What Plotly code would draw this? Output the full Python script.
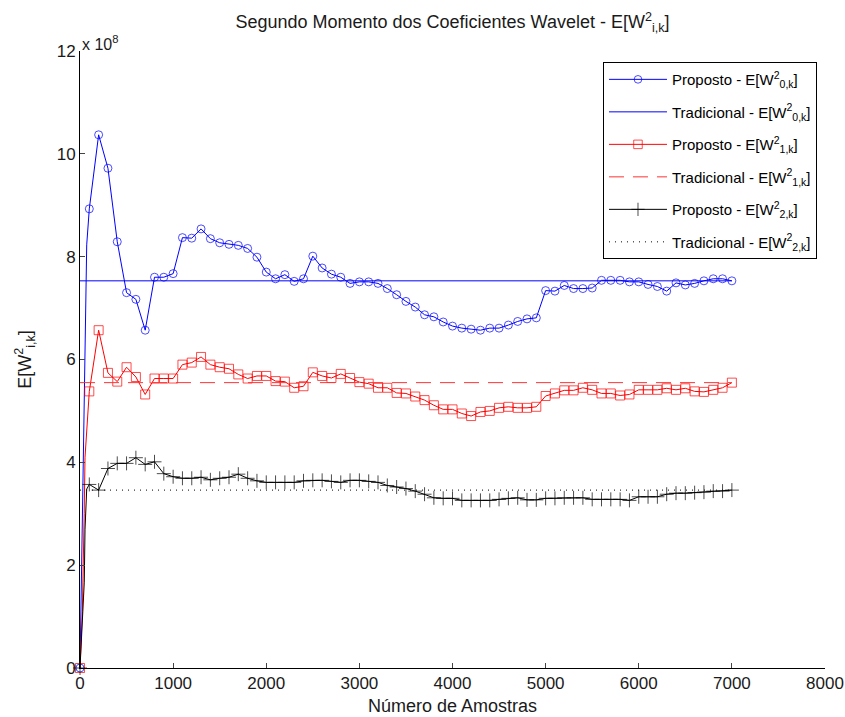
import numpy as np
import plotly.graph_objects as go

# Sample counts where the estimates were recorded (one marker every 100 samples)
amostras = list(range(0, 7001, 100))

# Proposed estimator, level 0 (x 1e8)
proposto_w0 = [0.0, 8.93, 10.37, 9.72, 8.29, 7.30, 7.17, 6.57, 7.60, 7.60, 7.67,
               8.37, 8.36, 8.54, 8.35, 8.27, 8.24, 8.22, 8.16, 7.99, 7.70,
               7.57, 7.65, 7.52, 7.57, 8.01, 7.78, 7.66, 7.60, 7.48, 7.51,
               7.51, 7.48, 7.38, 7.26, 7.13, 7.02, 6.87, 6.83, 6.73, 6.65,
               6.61, 6.59, 6.57, 6.61, 6.61, 6.67, 6.74, 6.79, 6.81, 7.34,
               7.33, 7.44, 7.38, 7.38, 7.39, 7.54, 7.54, 7.54, 7.51, 7.51,
               7.46, 7.42, 7.33, 7.49, 7.45, 7.48, 7.53, 7.57, 7.57, 7.53]

# Proposed estimator, level 1 (x 1e8)
proposto_w1 = [0.0, 5.38, 6.57, 5.74, 5.57, 5.85, 5.66, 5.32, 5.63, 5.63, 5.63,
               5.90, 5.94, 6.05, 5.90, 5.85, 5.82, 5.71, 5.63, 5.68, 5.68,
               5.58, 5.57, 5.45, 5.48, 5.75, 5.68, 5.64, 5.72, 5.64, 5.56,
               5.53, 5.45, 5.45, 5.35, 5.34, 5.28, 5.21, 5.11, 5.03, 5.03,
               4.95, 4.90, 4.98, 5.00, 5.06, 5.08, 5.06, 5.06, 5.08, 5.29,
               5.34, 5.40, 5.40, 5.45, 5.41, 5.34, 5.34, 5.30, 5.32, 5.41,
               5.41, 5.41, 5.44, 5.41, 5.44, 5.38, 5.37, 5.41, 5.45, 5.55]

# Proposed estimator, level 2 (x 1e8)
proposto_w2 = [0.0, 3.57, 3.46, 3.88, 3.98, 3.98, 4.09, 3.96, 4.01, 3.78, 3.72,
               3.69, 3.69, 3.71, 3.66, 3.69, 3.71, 3.77, 3.69, 3.64, 3.61,
               3.61, 3.61, 3.61, 3.64, 3.65, 3.65, 3.63, 3.61, 3.65, 3.65,
               3.63, 3.61, 3.55, 3.52, 3.49, 3.44, 3.38, 3.31, 3.30, 3.30,
               3.26, 3.26, 3.26, 3.26, 3.28, 3.30, 3.31, 3.27, 3.27, 3.30,
               3.30, 3.31, 3.31, 3.31, 3.28, 3.28, 3.28, 3.28, 3.26, 3.33,
               3.33, 3.33, 3.38, 3.40, 3.40, 3.41, 3.42, 3.44, 3.44, 3.46]

# Start-up transient between 0 and 100 samples (drawn without markers)
rampa_w0_x = [25, 54, 72]
rampa_w0_y = [2.7, 6.2, 8.23]
rampa_w1_x = [8, 25, 45, 54]
rampa_w1_y = [0.5, 1.1, 3.0, 4.1]
rampa_w2_x = [29, 46, 54, 72]
rampa_w2_y = [1.09, 1.67, 2.7, 3.48]

# Traditional estimator (constant over the whole record, x 1e8)
tradicional_w0 = 7.53
tradicional_w1 = 5.55
tradicional_w2 = 3.46

x_ticks = list(range(0, 8001, 1000))
y_ticks = list(range(0, 13, 2))

FONT = "Liberation Sans, Arial, sans-serif"
INK = "#1a1a1a"


def serie(vals, rx, ry):
    xs = [amostras[0]] + rx + amostras[1:]
    ys = [vals[0]] + ry + vals[1:]
    visivel = [1] + [0] * len(rx) + [1] * (len(amostras) - 1)
    return xs, ys, visivel


fig = go.Figure()

estilos = [
    (proposto_w0, rampa_w0_x, rampa_w0_y, "#0000ff", "circle-open", 8, "0"),
    (proposto_w1, rampa_w1_x, rampa_w1_y, "#ff0000", "square-open", 9, "1"),
    (proposto_w2, rampa_w2_x, rampa_w2_y, "#000000", "cross-thin-open", 10, "2"),
]
tradicionais = [
    (tradicional_w0, "#0000ff", "solid"),
    (tradicional_w1, "#ff3333", "15px,9px"),
    (tradicional_w2, "#000000", "1px,5px"),
]

for (vals, rx, ry, cor, simb, tam, nivel), (trad, cor_t, dash) in zip(estilos, tradicionais):
    xs, ys, v = serie(vals, rx, ry)
    fig.add_trace(go.Scatter(
        x=xs, y=ys, mode="lines+markers",
        name=f"Proposto - E[W<sup>2</sup><sub>{nivel},k</sub>]",
        legendgroup=f"p{nivel}",
        line=dict(color=cor, width=1),
        marker=dict(symbol=simb, size=[tam * s for s in v], color=cor,
                    line=dict(color=cor, width=1)),
        cliponaxis=False,
    ))
    fig.add_trace(go.Scatter(
        x=[amostras[0], amostras[-1]], y=[trad, trad], mode="lines",
        name=f"Tradicional - E[W<sup>2</sup><sub>{nivel},k</sub>]",
        legendgroup=f"t{nivel}",
        line=dict(color=cor_t, width=1, dash=dash),
    ))

fig.update_layout(
    width=845, height=717,
    margin=dict(l=80, r=20, t=51, b=49),
    paper_bgcolor="white", plot_bgcolor="white",
    font=dict(family=FONT, size=17, color=INK),
    title=dict(text="Segundo Momento dos Coeficientes Wavelet - E[W<sup>2</sup><sub>i,k</sub>]",
               x=0.5355, xanchor="center", y=1 - 22 / 717, yanchor="middle",
               font=dict(size=18, color=INK)),
    showlegend=True,
    legend=dict(x=0.702, y=0.982, xanchor="left", yanchor="top",
                bgcolor="white", bordercolor="#000000", borderwidth=1,
                font=dict(size=15, color="#000000"), tracegroupgap=10,
                itemwidth=58),
    xaxis=dict(range=[0, 8000], tickvals=x_ticks, ticks="inside", ticklen=5,
               showline=True, linecolor="#000000", linewidth=1, showgrid=False,
               zeroline=False, tickfont=dict(size=17, color=INK), automargin=False,
               title=dict(text="Número de Amostras", font=dict(size=18, color=INK), standoff=6)),
    yaxis=dict(range=[0, 12], tickvals=y_ticks, ticks="inside", ticklen=5,
               showline=True, linecolor="#000000", linewidth=1, showgrid=False,
               zeroline=False, tickfont=dict(size=17, color=INK), automargin=False,
               title=dict(text="E[W<sup>2</sup><sub>i,k</sub>]", font=dict(size=18, color=INK), standoff=20)),
    annotations=[dict(text="x 10<sup>8</sup>", xref="paper", yref="paper",
                      x=0.0, y=1.0, xanchor="left", yanchor="bottom", yshift=-4,
                      showarrow=False, font=dict(size=16, color=INK))],
)

fig.write_html("out.html")
